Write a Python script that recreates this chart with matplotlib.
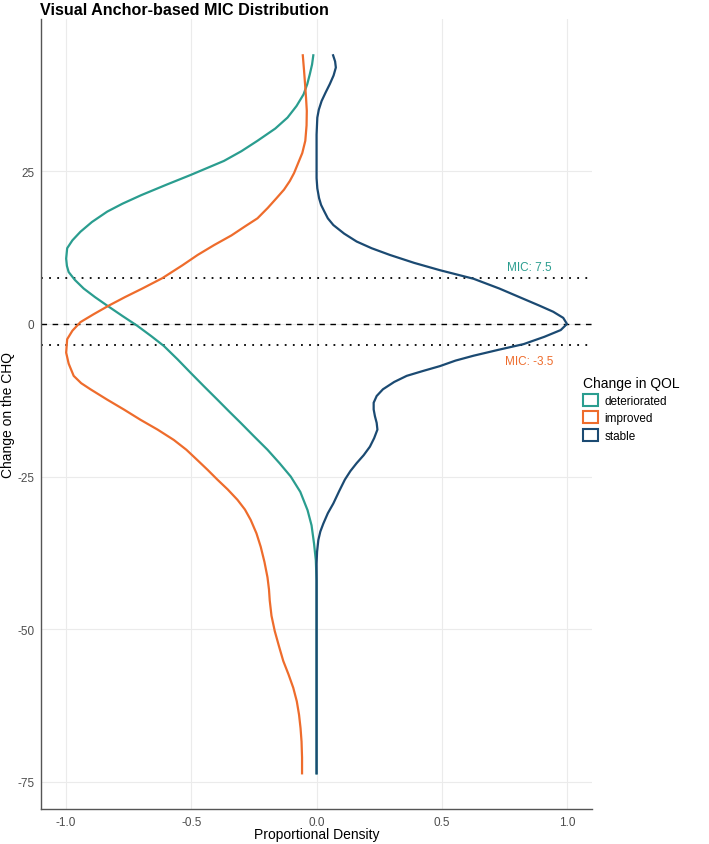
import numpy as np
import matplotlib
matplotlib.use('Agg')
import matplotlib.pyplot as plt
from matplotlib.patches import Patch

plt.rcParams['font.family'] = ['Liberation Sans', 'DejaVu Sans']
plt.rcParams['axes.unicode_minus'] = False

# density curves (y = change on CHQ, x = proportional density)
groups = ['deteriorated', 'improved', 'stable']
colors = {'deteriorated': '#2A9D8F', 'improved': '#EE6C2C', 'stable': '#1B4A72'}

det_y = [44.0, 42.5, 40.9, 39.3, 37.6, 35.7, 33.8, 32.0, 30.0, 28.3, 26.7, 24.4, 22.8,
         21.1, 19.7, 18.4, 16.7, 15.1, 13.7, 12.4, 10.7, 9.5, 8.5, 7.2, 5.8, 4.4, 3.0,
         1.3, -0.3, -2.0, -3.6, -5.8, -8.0, -10.2, -12.4, -14.3, -16.2, -18.4, -20.6,
         -22.8, -25.0, -27.5, -30.5, -33.0, -36.0, -38.7, -42.0, -73.6]
det_x = [-0.013, -0.018, -0.027, -0.037, -0.052, -0.08, -0.116, -0.165, -0.236, -0.30,
         -0.37, -0.503, -0.60, -0.70, -0.775, -0.836, -0.897, -0.943, -0.975, -0.996,
         -1.0, -0.997, -0.99, -0.965, -0.93, -0.885, -0.836, -0.775, -0.716, -0.66,
         -0.61, -0.555, -0.503, -0.45, -0.396, -0.35, -0.303, -0.25, -0.196, -0.148,
         -0.103, -0.065, -0.036, -0.02, -0.01, -0.003, 0.0, 0.0]

imp_y = [44.0, 41.5, 39.3, 37.0, 34.9, 32.5, 30.0, 28.0, 26.1, 24.7, 23.4, 22.0, 20.6,
         19.0, 17.3, 16.0, 14.5, 12.9, 11.3, 9.6, 7.5, 5.8, 4.4, 3.0, 1.6, 0.3, -1.1,
         -2.5, -4.7, -6.5, -8.5, -9.7, -10.7, -12.4, -14.0, -15.7, -17.3, -19.0, -20.6,
         -22.3, -23.9, -25.5, -27.1, -28.8, -30.4, -32.1, -34.3, -36.5, -39.0, -41.5,
         -43.5, -45.3, -47.8, -50.3, -52.8, -55.2, -57.4, -59.6, -61.8, -64.0, -66.2,
         -68.4, -71.0, -73.6]
imp_x = [-0.055, -0.05, -0.046, -0.042, -0.039, -0.04, -0.045, -0.057, -0.076, -0.09,
         -0.107, -0.13, -0.16, -0.195, -0.236, -0.285, -0.34, -0.41, -0.475, -0.536,
         -0.616, -0.696, -0.765, -0.83, -0.89, -0.943, -0.975, -0.996, -1.0, -0.99,
         -0.97, -0.94, -0.903, -0.836, -0.77, -0.703, -0.635, -0.57, -0.52, -0.476,
         -0.435, -0.396, -0.355, -0.316, -0.286, -0.263, -0.24, -0.223, -0.208, -0.196,
         -0.19, -0.187, -0.18, -0.167, -0.15, -0.133, -0.112, -0.093, -0.079, -0.07,
         -0.064, -0.06, -0.058, -0.058]

stb_y = [44.0, 43.0, 42.0, 40.7, 39.3, 37.9, 36.5, 35.1, 33.8, 31.0, 28.3, 23.9, 22.2,
         20.6, 19.5, 18.5, 17.3, 16.2, 14.8, 13.5, 12.4, 11.3, 10.0, 8.8, 7.4, 5.8, 4.1,
         3.0, 2.0, 1.0, 0.0, -1.0, -2.1, -3.3, -4.2, -5.2, -6.0, -6.9, -7.7, -8.5, -9.5,
         -10.7, -11.8, -12.9, -14.0, -15.1, -16.2, -17.3, -18.7, -20.1, -21.5, -22.8,
         -24.1, -25.5, -27.4, -29.4, -31.0, -32.7, -34.0, -35.4, -37.3, -39.3, -73.6]
stb_x = [0.066, 0.074, 0.077, 0.068, 0.053, 0.036, 0.02, 0.009, 0.003, 0.0, 0.0, 0.0,
         0.003, 0.01, 0.018, 0.03, 0.045, 0.067, 0.11, 0.16, 0.22, 0.293, 0.39, 0.493,
         0.627, 0.73, 0.827, 0.89, 0.945, 0.985, 1.0, 0.975, 0.91, 0.827, 0.73, 0.627,
         0.555, 0.493, 0.425, 0.36, 0.31, 0.265, 0.24, 0.228, 0.228, 0.233, 0.24, 0.243,
         0.23, 0.213, 0.188, 0.16, 0.135, 0.113, 0.09, 0.067, 0.045, 0.027, 0.015,
         0.007, 0.002, 0.0, 0.0]

mic_det = 7.5
mic_imp = -3.5

fig = plt.figure(figsize=(7.09, 8.45), dpi=100)
ax = fig.add_axes([0.058, 0.041, 0.777, 0.935])

ax.plot(det_x, det_y, color=colors['deteriorated'], lw=1.6, zorder=3)
ax.plot(imp_x, imp_y, color=colors['improved'], lw=1.6, zorder=3)
ax.plot(stb_x, stb_y, color=colors['stable'], lw=1.6, zorder=3)

ax.axhline(0, color='black', lw=1.0, ls=(0, (4, 4)), zorder=2)
ax.axhline(mic_det, color='black', lw=1.3, ls=(0, (1, 3.5)), zorder=2)
ax.axhline(mic_imp, color='black', lw=1.3, ls=(0, (1, 3.5)), zorder=2)

ax.text(0.85, mic_det + 1.9, f'MIC: {mic_det}', color=colors['deteriorated'],
        fontsize=8.5, ha='center', va='center')
ax.text(0.85, mic_imp - 2.55, f'MIC: {mic_imp}', color=colors['improved'],
        fontsize=8.5, ha='center', va='center')

ax.set_xlim(-1.1, 1.1)
ax.set_ylim(-79.5, 49.9)
ax.set_xticks([-1.0, -0.5, 0.0, 0.5, 1.0])
ax.set_yticks([25, 0, -25, -50, -75])
ax.grid(True, color='#EBEBEB', lw=0.8)
ax.set_axisbelow(True)
ax.tick_params(length=0, labelsize=8.5, labelcolor='#4D4D4D', pad=5)
for s in ['top', 'right']:
    ax.spines[s].set_visible(False)
for s in ['left', 'bottom']:
    ax.spines[s].set_color('#555555')
    ax.spines[s].set_linewidth(1.0)

ax.set_xlabel('Proportional Density', fontsize=10)
ax.set_ylabel('Change on the CHQ', fontsize=10)
ax.xaxis.set_label_coords(0.5, -0.022)
ax.yaxis.set_label_coords(-0.048, 0.5)
ax.set_title('Visual Anchor-based MIC Distribution', fontsize=11.6, fontweight='bold',
             loc='left', x=-0.002, pad=4)

handles = [Patch(facecolor='white', edgecolor=colors[g], lw=1.5, label=g) for g in groups]
leg = fig.legend(handles=handles, title='Change in QOL', loc='center left',
                 bbox_to_anchor=(0.808, 0.515), frameon=False, fontsize=8.5,
                 title_fontsize=10, handlelength=1.2, handleheight=1.2,
                 handletextpad=0.6, labelspacing=0.35)
leg._legend_box.align = 'left'

fig.savefig('out.png', dpi=100)
